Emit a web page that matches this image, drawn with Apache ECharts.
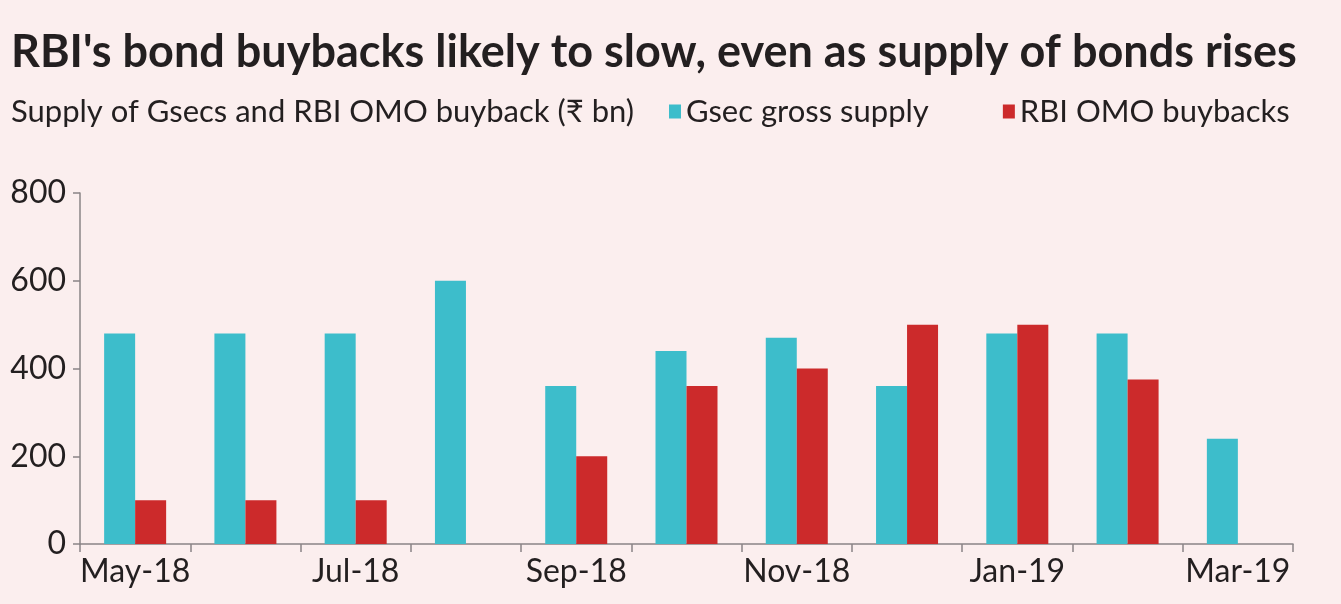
<!DOCTYPE html>
<html>
<head>
<meta charset="utf-8">
<script src="https://cdn.jsdelivr.net/npm/echarts@6/dist/echarts.min.js"></script>
<style>
  html, body { margin: 0; padding: 0; background: #fbeeee; }
  #chart { width: 1341px; height: 604px; }
</style>
</head>
<body>
<div id="chart"></div>
<script>
// months on the x axis
const months = ["May-18", "Jun-18", "Jul-18", "Aug-18", "Sep-18", "Oct-18",
  "Nov-18", "Dec-18", "Jan-19", "Feb-19", "Mar-19"];
// Gsec gross supply, Rs bn
const gsecSupply = [480, 480, 480, 600, 360, 440, 470, 360, 480, 480, 240];
// RBI OMO buybacks, Rs bn (no bar in Aug-18 and Mar-19)
const omoBuybacks = [100, 100, 100, null, 200, 360, 400, 500, 500, 375, null];
const yTicks = [0, 200, 400, 600, 800];

const font = "Lato, 'DejaVu Sans', sans-serif";
const chart = echarts.init(document.getElementById("chart"));

chart.setOption({
  backgroundColor: "#fbeeee",
  animation: false,
  textStyle: { fontFamily: font },
  title: [
    {
      text: "RBI's bond buybacks likely to slow, even as supply of bonds rises",
      left: 6, top: 25,
      textStyle: { fontFamily: font, fontSize: 45, fontWeight: "bold", color: "#231f20" }
    },
    {
      text: "Supply of Gsecs and RBI OMO buyback (₹ bn)",
      left: 6, top: 91,
      textStyle: { fontFamily: font, fontSize: 31, fontWeight: "normal", color: "#231f20" }
    }
  ],
  legend: {
    left: 664, top: 91,
    icon: "rect",
    itemWidth: 12, itemHeight: 14,
    itemGap: 74,
    textStyle: { fontFamily: font, fontSize: 31, color: "#231f20" },
    data: ["Gsec gross supply", "RBI OMO buybacks"]
  },
  grid: { left: 80, right: 48, top: 193, bottom: 60 },
  xAxis: {
    type: "category",
    data: months,
    axisLine: { lineStyle: { color: "#8a8486", width: 1.5 } },
    axisTick: { show: true, interval: 0, length: 8, lineStyle: { color: "#8a8486", width: 1.5 } },
    axisLabel: {
      interval: 1, margin: 12,
      fontFamily: font, fontSize: 32, color: "#231f20"
    }
  },
  yAxis: {
    type: "value",
    min: yTicks[0], max: yTicks[yTicks.length - 1], interval: 200,
    splitLine: { show: false },
    axisLine: { show: true, lineStyle: { color: "#8a8486", width: 1.5 } },
    axisTick: { show: true, length: 7, lineStyle: { color: "#8a8486", width: 1.5 } },
    axisLabel: { margin: 14, fontFamily: font, fontSize: 32, color: "#231f20" }
  },
  series: [
    {
      name: "Gsec gross supply",
      type: "bar",
      data: gsecSupply,
      barWidth: 31,
      barGap: "0%",
      itemStyle: { color: "#3dbdcb" }
    },
    {
      name: "RBI OMO buybacks",
      type: "bar",
      data: omoBuybacks,
      barWidth: 31,
      barGap: "0%",
      itemStyle: { color: "#cc2a2b" }
    }
  ]
});
</script>
</body>
</html>
